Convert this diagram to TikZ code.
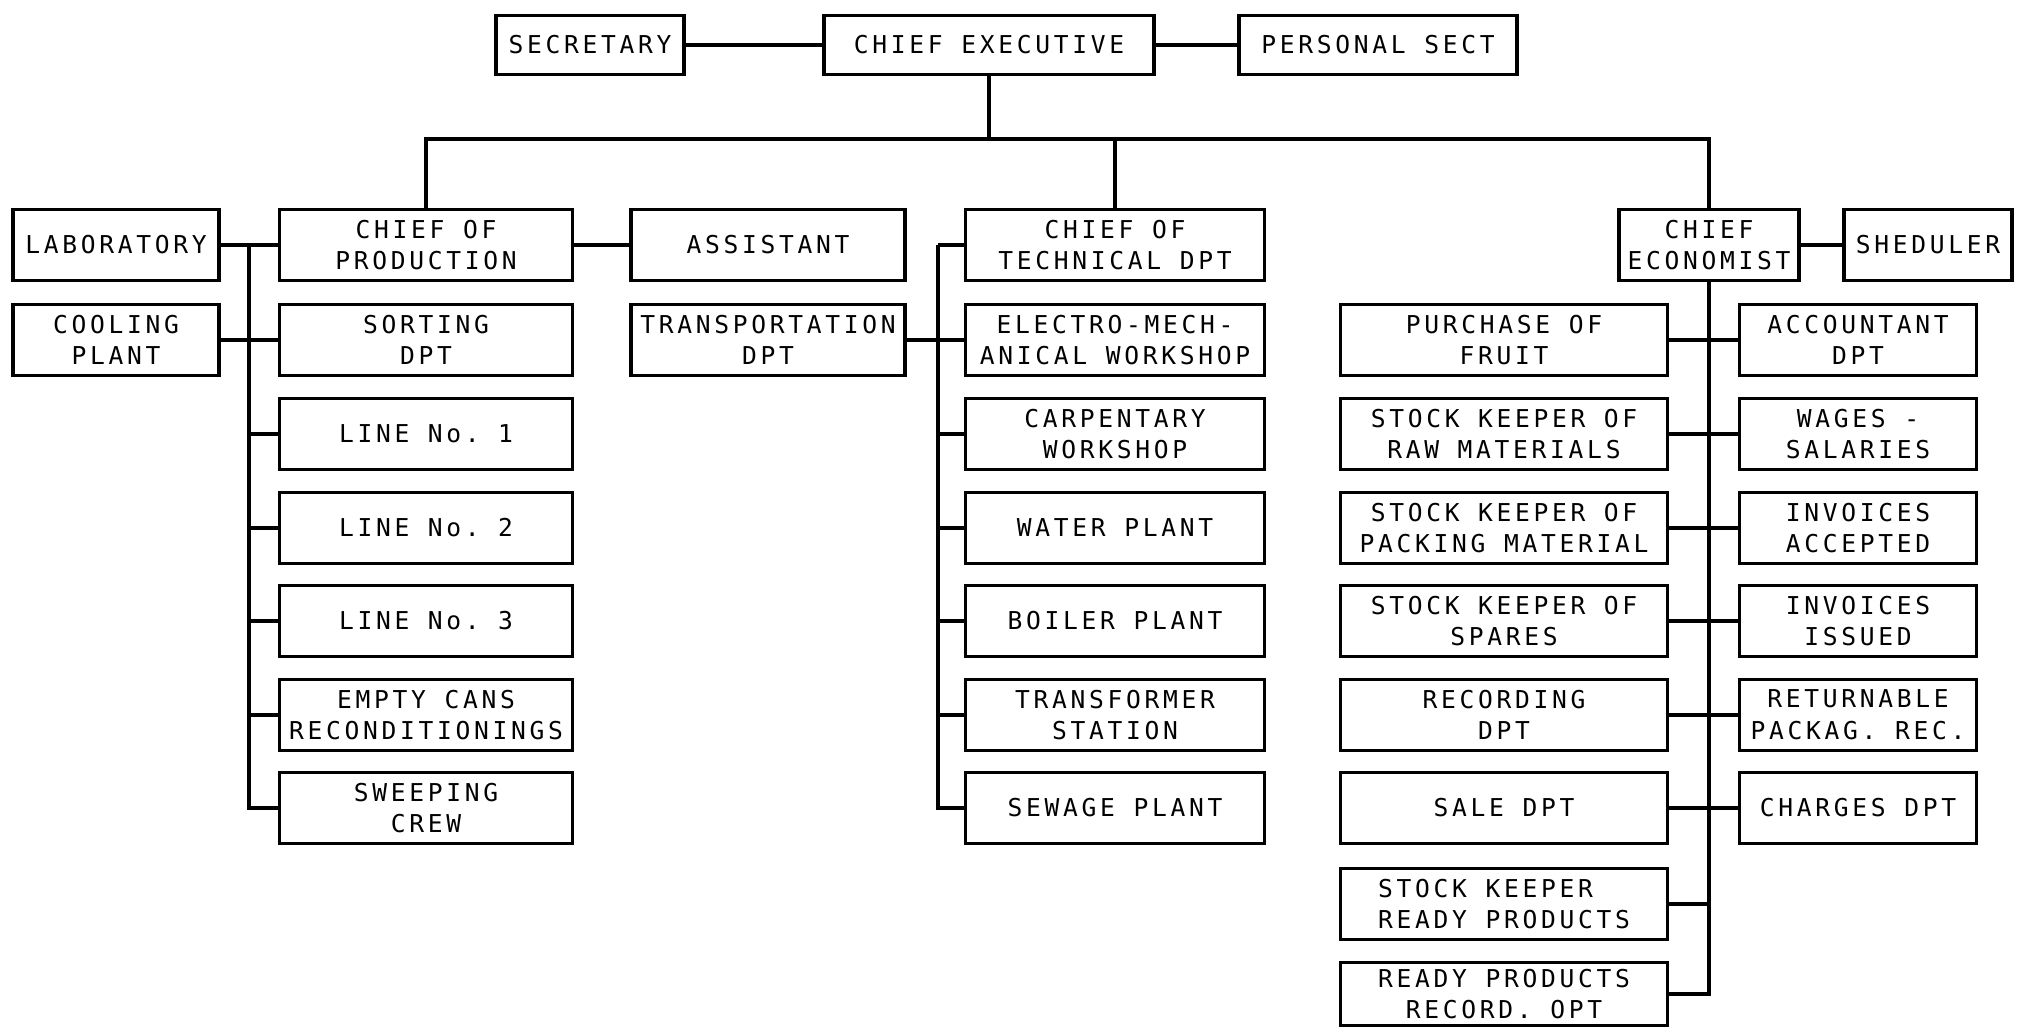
\documentclass[tikz,border=0pt]{standalone}
\usepackage{fontspec}
\setmonofont{DejaVu Sans Mono}[LetterSpace=15]
\usepackage{tikz}
\usetikzlibrary{positioning}

\begin{document}
\begin{tikzpicture}[
    x=0.1mm, y=-0.1mm,
    orgbox/.style={rectangle, draw, line width=1.1pt, fill=white,
                   minimum width=#1, minimum height=0.71cm, inner sep=1pt,
                   align=center, font=\ttfamily\fontsize{7}{9}\selectfont},
    topbox/.style={orgbox=#1, minimum height=0.59cm},
    link/.style={line width=1.1pt}
]
\fill[white] (0,0) rectangle (2020,1027);
\useasboundingbox (0,0) rectangle (2020,1027);

% top
\node[topbox=3.30cm] (ceo) at (989,45) {CHIEF EXECUTIVE};
\node[topbox=1.88cm] (secr) at (590,45) {SECRETARY};
\node[topbox=2.78cm] (psec) at (1378,45) {PERSONAL SECT};

% production
\node[orgbox=2.93cm] (cprod) at (426,245) {CHIEF OF\\PRODUCTION};
\node[orgbox=2.93cm] (sort) at (426,340) {SORTING\\DPT};
\node[orgbox=2.93cm] (line1) at (426,434) {LINE No. 1};
\node[orgbox=2.93cm] (line2) at (426,528) {LINE No. 2};
\node[orgbox=2.93cm] (line3) at (426,621) {LINE No. 3};
\node[orgbox=2.93cm] (cans) at (426,715) {EMPTY CANS\\RECONDITIONINGS};
\node[orgbox=2.93cm] (sweep) at (426,808) {SWEEPING\\CREW};
\node[orgbox=2.06cm] (lab) at (116,245) {LABORATORY};
\node[orgbox=2.06cm] (cool) at (116,340) {COOLING\\PLANT};
\node[orgbox=2.74cm] (assist) at (768,245) {ASSISTANT};
\node[orgbox=2.74cm] (transp) at (768,340) {TRANSPORTATION\\DPT};

% technical
\node[orgbox=2.99cm] (ctech) at (1115,245) {CHIEF OF\\TECHNICAL DPT};
\node[orgbox=2.99cm] (elmech) at (1115,340) {ELECTRO-MECH-\\ANICAL WORKSHOP};
\node[orgbox=2.99cm] (carp) at (1115,434) {CARPENTARY\\WORKSHOP};
\node[orgbox=2.99cm] (water) at (1115,528) {WATER PLANT};
\node[orgbox=2.99cm] (boiler) at (1115,621) {BOILER PLANT};
\node[orgbox=2.99cm] (transf) at (1115,715) {TRANSFORMER\\STATION};
\node[orgbox=2.99cm] (sewage) at (1115,808) {SEWAGE PLANT};

% economist
\node[orgbox=1.80cm] (cecon) at (1709,245) {CHIEF\\ECONOMIST};
\node[orgbox=1.68cm] (sched) at (1928,245) {SHEDULER};
\node[orgbox=3.27cm] (purch) at (1504,340) {PURCHASE OF\\FRUIT};
\node[orgbox=3.27cm] (skraw) at (1504,434) {STOCK KEEPER OF\\RAW MATERIALS};
\node[orgbox=3.27cm] (skpack) at (1504,528) {STOCK KEEPER OF\\PACKING MATERIAL};
\node[orgbox=3.27cm] (skspare) at (1504,621) {STOCK KEEPER OF\\SPARES};
\node[orgbox=3.27cm] (record) at (1504,715) {RECORDING\\DPT};
\node[orgbox=3.27cm] (sale) at (1504,808) {SALE DPT};
\node[orgbox=3.27cm, align=left] (skready) at (1504,904) {STOCK KEEPER\\READY PRODUCTS};
\node[orgbox=3.27cm, minimum height=0.63cm] (rprec) at (1504,994) {READY PRODUCTS\\RECORD. OPT};
\node[orgbox=2.37cm] (acc) at (1858,340) {ACCOUNTANT\\DPT};
\node[orgbox=2.37cm] (wages) at (1858,434) {WAGES -\\SALARIES};
\node[orgbox=2.37cm] (invacc) at (1858,528) {INVOICES\\ACCEPTED};
\node[orgbox=2.37cm] (invis) at (1858,621) {INVOICES\\ISSUED};
\node[orgbox=2.37cm] (retpack) at (1858,715) {RETURNABLE\\PACKAG. REC.};
\node[orgbox=2.37cm] (charges) at (1858,808) {CHARGES DPT};

\coordinate (top) at (989,139);
\coordinate (pb) at (249,245);
\coordinate (tb) at (938,245);

% lines
\draw[link] (secr) -- (ceo);
\draw[link] (ceo) -- (psec);
\draw[link] (ceo) -- (top);
\draw[link] (cprod) |- (top) -| (cecon);
\draw[link] (ctech) -- (ctech |- top);

\draw[link] (lab) -- (cprod);
\draw[link] (cool) -- (sort);
\draw[link] (cprod) -- (assist);
\draw[link] (pb) |- (sweep);
\draw[link] (pb |- line1) -- (line1);
\draw[link] (pb |- line2) -- (line2);
\draw[link] (pb |- line3) -- (line3);
\draw[link] (pb |- cans) -- (cans);

\draw[link] (tb) -- (ctech);
\draw[link] (tb) |- (sewage);
\draw[link] (transp) -- (elmech);
\draw[link] (tb |- carp) -- (carp);
\draw[link] (tb |- water) -- (water);
\draw[link] (tb |- boiler) -- (boiler);
\draw[link] (tb |- transf) -- (transf);

\draw[link] (cecon) -- (sched);
\draw[link] (cecon) |- (rprec);
\draw[link] (purch) -- (acc);
\draw[link] (skraw) -- (wages);
\draw[link] (skpack) -- (invacc);
\draw[link] (skspare) -- (invis);
\draw[link] (record) -- (retpack);
\draw[link] (sale) -- (charges);
\draw[link] (skready) -- (skready -| cecon);
\end{tikzpicture}
\end{document}
